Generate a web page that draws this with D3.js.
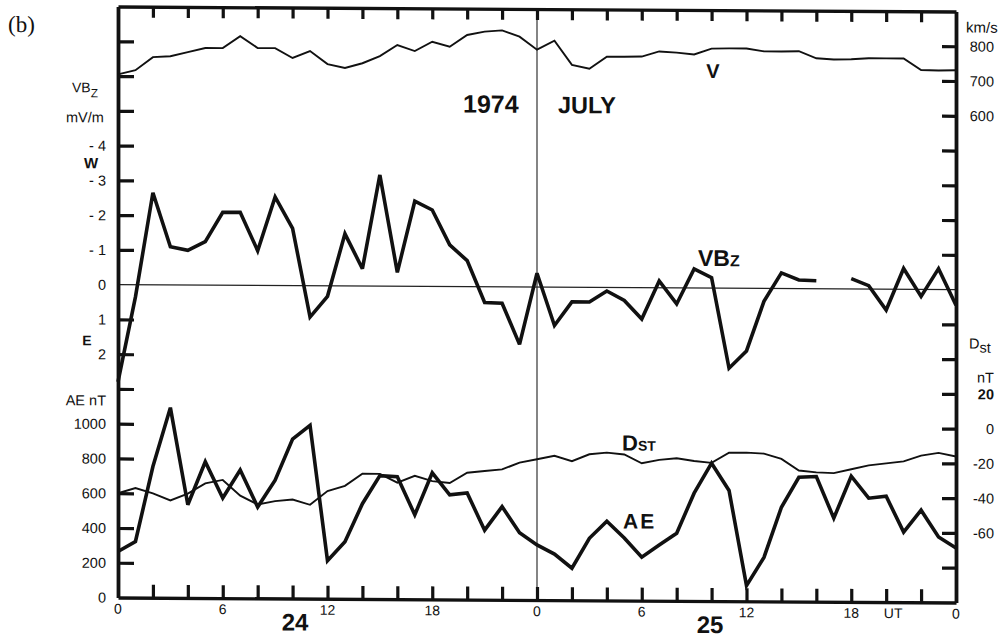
<!DOCTYPE html>
<html>
<head>
<meta charset="utf-8">
<script src="https://cdn.jsdelivr.net/npm/d3@7"></script>
<style>
  html, body { margin: 0; padding: 0; background: #fff; }
  svg { display: block; }
  text { fill: #111; }
</style>
</head>
<body>
<div id="chart-area"></div>
<script>
// ########################################
// DATA (one reading per UT hour, 24-25 July 1974)
// ########################################

const hours = d3.range(0, 49);

// solar wind speed, km/s
const vSpeed = [705, 717, 755, 758, 770, 782, 782, 817, 783, 783, 755, 775, 738,
  727, 741, 762, 794, 777, 804, 790, 824, 834, 838, 820, 783,
  809, 740, 729, 764, 764, 765, 780, 777, 772, 789, 790, 790,
  782, 782, 783, 763, 760, 761, 764, 764, 764, 731, 730, 731];

// VBz, mV/m (null = data gap)
const vbz = [2.8, 0.35, -2.65, -1.1, -1.0, -1.25, -2.1, -2.1, -1.0, -2.55, -1.65, 0.9, 0.3,
  -1.5, -0.5, -3.2, -0.4, -2.45, -2.2, -1.2, -0.75, 0.45, 0.47, 1.65, -0.4,
  1.1, 0.42, 0.42, 0.1, 0.37, 0.9, -0.2, 0.46, -0.55, -0.3, 2.3, 1.8,
  0.37, -0.45, -0.25, -0.23, null, -0.3, -0.1, 0.6, -0.6, 0.2, -0.6, 0.45];

// Dst, nT
const dst = [-40, -37, -40, -44, -40, -34, -32, -41, -46, -44, -43, -46, -38,
  -35, -28, -28, -33, -29, -32, -33, -27, -26, -25, -21, -19,
  -17, -20, -16, -15, -16, -21, -19, -18, -19.5, -20.5, -14.6, -14.5,
  -15, -18, -24.6, -25.6, -26, -23.7, -21.4, -20.2, -19, -15.6, -14, -16];

// AE, nT
const ae = [265, 323, 755, 1094, 536, 784, 576, 738, 525, 680, 917, 997, 219,
  328, 548, 710, 704, 486, 728, 602, 613, 400, 536, 387, 317,
  265, 184, 357, 455, 360, 250, 320, 389, 620, 793, 637, 90,
  253, 542, 715, 720, 481, 723, 597, 609, 403, 530, 376, 313];

// tick labels
const hourTicks = [0, 6, 12, 18, 24, 30, 36, 42, 48];
const hourLabels = ['0', '6', '12', '18', '0', '6', '12', '18', '0'];
const vbzTicks = [-4, -3, -2, -1, 0, 1, 2];
const aeTicks = [0, 200, 400, 600, 800, 1000];
const vTicks = [600, 700, 800];
const dstTicks = [20, 0, -20, -40, -60];

// ########################################
// SVG AND FRAME
// ########################################

const W = 1007, H = 637;
const plotLeft = 118, plotRight = 956, plotBottom = 600;

const svg = d3.select('#chart-area')
  .append('svg')
  .attr('width', W)
  .attr('height', H)
  .style('font-family', '"Liberation Sans", Arial, sans-serif');

// the scan is slightly tilted, right side lower
const g = svg.append('g')
  .attr('transform', 'translate(537,0) skewY(0.34) translate(-537,0)');

const x = d3.scaleLinear().domain([0, 48]).range([plotLeft, plotRight]);

// common tick grid, 17 steps from the bottom to the top frame
const grid = d3.scaleLinear().domain([0, 17]).range([plotBottom, 9]);
const plotTop = grid(17);

// each quantity rides on its own part of the grid
const yV = d3.scaleLinear().domain([600, 800]).range([grid(14), grid(16)]);
const yVbz = d3.scaleLinear().domain([0, -4]).range([grid(9), grid(13)]);
const yDst = d3.scaleLinear().domain([0, 20]).range([grid(5), grid(6)]);
const yAe = d3.scaleLinear().domain([0, 1000]).range([grid(0), grid(5)]);

const ink = '#111';
const gridTicks = d3.range(1, 17).filter(k => k !== 9);

// thin reference lines: VBz zero and day boundary
g.append('line')
  .attr('x1', plotLeft).attr('x2', plotRight)
  .attr('y1', yVbz(0)).attr('y2', yVbz(0))
  .attr('stroke', '#222').attr('stroke-width', 1.3);

g.append('line')
  .attr('x1', x(24)).attr('x2', x(24))
  .attr('y1', plotTop).attr('y2', plotBottom)
  .attr('stroke', '#333').attr('stroke-width', 1.2);

// axes: ticks only, pointing inward
function styleAxis(sel, w) {
  sel.selectAll('path').attr('stroke', ink).attr('stroke-width', w);
  sel.selectAll('line').attr('stroke', ink).attr('stroke-width', 3.2);
  sel.selectAll('text').remove();
}

g.append('g')
  .attr('transform', 'translate(0,' + plotBottom + ')')
  .call(d3.axisBottom(x).tickValues(d3.range(2, 48, 2)).tickSizeInner(-13).tickSizeOuter(0))
  .call(s => styleAxis(s, 3.4));

g.append('g')
  .attr('transform', 'translate(0,' + plotTop + ')')
  .call(d3.axisTop(x).tickValues(d3.range(2, 48, 2)).tickSizeInner(-11).tickSizeOuter(0))
  .call(s => styleAxis(s, 3.4));

g.append('g')
  .attr('transform', 'translate(' + plotLeft + ',0)')
  .call(d3.axisLeft(grid).tickValues(gridTicks).tickSizeInner(-16).tickSizeOuter(0))
  .call(s => styleAxis(s, 3.8));

g.append('g')
  .attr('transform', 'translate(' + plotRight + ',0)')
  .call(d3.axisRight(grid).tickValues(gridTicks).tickSizeInner(-14).tickSizeOuter(0))
  .call(s => styleAxis(s, 3.8));

// ########################################
// TICK LABELS
// ########################################

g.selectAll('.hour-label')
  .data(hourTicks)
  .enter()
  .append('text')
  .attr('class', 'hour-label')
  .attr('x', d => x(d))
  .attr('y', plotBottom + 16)
  .attr('text-anchor', 'middle')
  .attr('font-size', '14px')
  .text((d, i) => hourLabels[i]);

g.append('text')
  .attr('x', x(44.4)).attr('y', plotBottom + 16)
  .attr('text-anchor', 'middle').attr('font-size', '14px')
  .text('UT');

g.selectAll('.vbz-label')
  .data(vbzTicks)
  .enter()
  .append('text')
  .attr('class', 'vbz-label')
  .attr('x', 106)
  .attr('y', d => yVbz(d))
  .attr('dy', '0.36em')
  .attr('text-anchor', 'end')
  .attr('font-size', '14.5px')
  .text(d => d < 0 ? '- ' + (-d) : String(d));

g.selectAll('.ae-label')
  .data(aeTicks)
  .enter()
  .append('text')
  .attr('class', 'ae-label')
  .attr('x', 106)
  .attr('y', d => yAe(d))
  .attr('dy', '0.36em')
  .attr('text-anchor', 'end')
  .attr('font-size', '14.5px')
  .text(d => d);

g.selectAll('.v-label')
  .data(vTicks)
  .enter()
  .append('text')
  .attr('class', 'v-label')
  .attr('x', 994)
  .attr('y', d => yV(d))
  .attr('dy', '0.36em')
  .attr('text-anchor', 'end')
  .attr('font-size', '14.5px')
  .text(d => d);

g.selectAll('.dst-label')
  .data(dstTicks)
  .enter()
  .append('text')
  .attr('class', 'dst-label')
  .attr('x', 994)
  .attr('y', d => yDst(d))
  .attr('dy', '0.36em')
  .attr('text-anchor', 'end')
  .attr('font-size', '14.5px')
  .attr('font-weight', d => d === 20 ? 'bold' : 'normal')
  .text(d => d);

// axis titles
function label(px, py, parts, opts) {
  const t = g.append('text')
    .attr('x', px).attr('y', py)
    .attr('text-anchor', (opts && opts.anchor) || 'start');
  if (opts && opts.family) t.style('font-family', opts.family);
  parts.forEach(p => {
    t.append('tspan')
      .attr('font-size', p.size + 'px')
      .attr('font-weight', p.bold ? 'bold' : 'normal')
      .attr('dy', p.dy || 0)
      .attr('letter-spacing', p.ls || 0)
      .text(p.t);
  });
  return t;
}

label(8, 35, [{ t: '(b)', size: 23 }], { family: '"Liberation Serif", "Times New Roman", serif' });

label(72, 95, [{ t: 'VB', size: 14 }, { t: 'Z', size: 12, dy: 5 }]);
label(66, 125, [{ t: 'mV/m', size: 14.5 }]);
label(91, 171, [{ t: 'W', size: 15, bold: true }], { anchor: 'middle' });
label(87, 348, [{ t: 'E', size: 14, bold: true }], { anchor: 'middle' });
label(106, 408, [{ t: 'AE nT', size: 14.5 }], { anchor: 'end' });

label(966, 30, [{ t: 'km/s', size: 15 }]);
label(969, 346, [{ t: 'D', size: 14.5 }, { t: 'st', size: 14.5, dy: 4 }]);
label(977, 380, [{ t: 'nT', size: 14.5 }]);

// in-plot labels
label(463, 113, [{ t: '1974', size: 25, bold: true }]);
label(558, 113, [{ t: 'JULY', size: 23.5, bold: true }]);
label(713, 77, [{ t: 'V', size: 20, bold: true }], { anchor: 'middle' });
label(698, 265, [{ t: 'VB', size: 23, bold: true }, { t: 'Z', size: 16, bold: true, dy: 0 }]);
label(622, 450, [{ t: 'D', size: 22, bold: true }, { t: 'ST', size: 14, bold: true }]);
label(623, 528, [{ t: 'AE', size: 21, bold: true, ls: 2 }]);
label(295, 632, [{ t: '24', size: 24, bold: true }], { anchor: 'middle' });
label(710, 632, [{ t: '25', size: 24, bold: true }], { anchor: 'middle' });

// ########################################
// SERIES
// ########################################

function drawSeries(values, yScale, width) {
  const line = d3.line()
    .defined(d => d[1] !== null)
    .x(d => x(d[0]))
    .y(d => yScale(d[1]));
  g.append('path')
    .datum(hours.map((h, i) => [h, values[i]]))
    .attr('d', line)
    .attr('fill', 'none')
    .attr('stroke', ink)
    .attr('stroke-width', width)
    .attr('stroke-linejoin', 'miter')
    .attr('stroke-miterlimit', 3);
}

drawSeries(vSpeed, yV, 1.9);
drawSeries(dst, yDst, 1.9);
drawSeries(vbz, yVbz, 3.6);
drawSeries(ae, yAe, 3.6);
</script>
</body>
</html>
